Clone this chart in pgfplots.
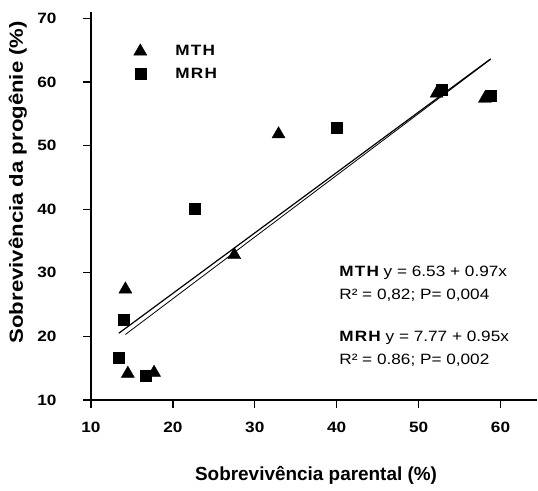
\documentclass[border=0pt]{standalone}
\usepackage{fontspec}
\setmainfont{Liberation Sans}
\newfontfamily\tickf{Liberation Sans}[FakeStretch=1.15]
\newfontfamily\ylabf{Liberation Sans}[FakeStretch=1.17]
\newfontfamily\annf{Liberation Sans}[FakeStretch=1.15]
\newfontfamily\legf{Liberation Sans}[FakeStretch=1.15,LetterSpace=8]
\usepackage{pgfplots}
\pgfplotsset{compat=1.18}
\pgfplotsset{myleg/.style={legend image code/.code={\draw[##1] plot coordinates {(0bp,0bp)}; \path (-7bp,0bp) (25bp,0bp);}}}
\begin{document}
\begin{tikzpicture}
\useasboundingbox (0,0) rectangle (538bp,491bp);
\begin{axis}[
  at={(91bp,91bp)}, anchor=south west,
  scale only axis, width=445.7bp, height=388.3bp,
  xmin=10, xmax=64.42, ymin=10, ymax=71.05,
  axis x line=bottom, axis y line=left,
  axis line style={-, line width=1.2bp},
  tick align=outside, major tick length=8bp,
  every tick/.style={black, line width=1.2bp},
  xtick={10,20,...,60}, ytick={10,20,...,70},
  /pgf/number format/assume math mode=true,
  tick label style={font=\tickf\bfseries\fontsize{15}{17}\selectfont},
  xticklabel style={anchor=center, yshift=-19bp},
  yticklabel style={anchor=east, xshift=-23bp},
  xlabel={Sobrevivência parental (\%)},
  ylabel={Sobrevivência da progênie (\%)},
  xlabel style={font=\bfseries\fontsize{19}{22}\selectfont, at={(axis description cs:0.505,-0.193)}, anchor=center},
  ylabel style={font=\ylabf\bfseries\fontsize{19}{22}\selectfont, at={(axis description cs:-0.164,0.561)}, anchor=center},
  legend style={draw=none, fill=none, at={(axis cs:14.75,66.4)}, anchor=north west,
    font=\legf\bfseries\fontsize{15}{17}\selectfont, row sep=7bp},
  legend cell align=left,
]
\addplot[only marks, mark=triangle*, mark size=7.5bp, black, myleg]
  coordinates {(14.2,27.4) (14.5,14.15) (17.7,14.3) (27.5,32.8) (32.9,51.8) (52.2,58.2) (58.1,57.4)};
\addlegendentry{\hspace{8bp}MTH}
\addplot[only marks, mark=square*, mark size=5.5bp, black, myleg]
  coordinates {(13.95,22.7) (13.4,16.7) (16.7,13.8) (22.7,40) (40.0,52.8) (52.8,58.85) (58.8,57.85)};
\addlegendentry{\hspace{8bp}MRH}
\addplot[black, line width=0.8bp, forget plot] coordinates {(14.2,20.30) (58.8,63.57)};
\addplot[black, line width=1.2bp, forget plot] coordinates {(13.4,20.50) (58.8,63.63)};
\node[anchor=base west, inner sep=0, font=\annf\fontsize{15}{17}\selectfont] at (axis cs:40.3,29.38) {{\legf\bfseries MTH} y = 6.53 + 0.97x};
\node[anchor=base west, inner sep=0, font=\annf\fontsize{15}{17}\selectfont] at (axis cs:40.3,25.83) {R² = 0,82; P= 0,004};
\node[anchor=base west, inner sep=0, font=\annf\fontsize{15}{17}\selectfont] at (axis cs:40.3,19.16) {{\legf\bfseries MRH} y = 7.77 + 0.95x};
\node[anchor=base west, inner sep=0, font=\annf\fontsize{15}{17}\selectfont] at (axis cs:40.3,15.66) {R² = 0.86; P= 0,002};
\end{axis}
\end{tikzpicture}
\end{document}
